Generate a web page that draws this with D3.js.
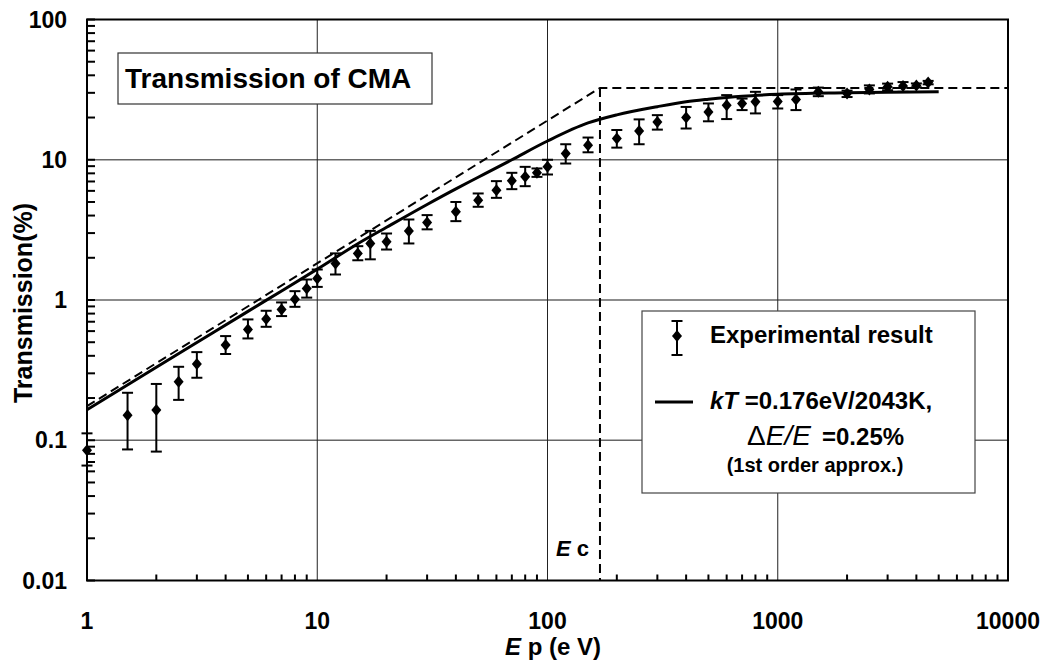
<!DOCTYPE html>
<html>
<head>
<meta charset="utf-8">
<script src="https://d3js.org/d3.v7.min.js"></script>
<style>
  body { margin: 0; background: #fff; }
  text { font-family: Arial, "Liberation Sans", sans-serif; font-weight: bold; fill: #000; }
</style>
</head>
<body>
<div class="chart"></div>
<script>
// Experimental points (Ep in eV, transmission in %) with error bar limits
var energy = [1, 1.5, 2, 2.5, 3, 4, 5, 6, 7, 8, 9, 10, 12, 15, 17, 20, 25, 30, 40, 50, 60, 70, 80, 90, 100,
  120, 150, 200, 250, 300, 400, 500, 600, 700, 800, 1000, 1200, 1500, 2000, 2500, 3000, 3500, 4000, 4500];
var transmission = [0.085, 0.151, 0.164, 0.261, 0.349, 0.477, 0.617, 0.731, 0.857, 1.014, 1.21, 1.425, 1.82, 2.15, 2.53, 2.60, 3.10, 3.57, 4.25, 5.15, 6.07, 7.08, 7.55, 8.07, 8.9,
  11.1, 12.7, 14.2, 16.0, 18.6, 20.0, 21.9, 24.5, 25.2, 25.9, 26.0, 26.9, 30.5, 29.7, 31.7, 33.1, 33.5, 33.9, 35.5];
var errLow = [0.066, 0.086, 0.083, 0.194, 0.279, 0.412, 0.532, 0.644, 0.768, 0.894, 1.04, 1.24, 1.52, 1.92, 1.95, 2.29, 2.53, 3.19, 3.65, 4.62, 5.35, 6.17, 6.48, 7.55, 7.85,
  9.4, 11.3, 12.2, 12.9, 16.4, 16.7, 18.8, 19.5, 22.6, 21.4, 23.2, 22.6, 28.4, 28.0, 29.7, 31.3, 30.5, 32.8, 34.5];
var errHigh = [0.112, 0.218, 0.252, 0.334, 0.425, 0.553, 0.727, 0.838, 0.961, 1.156, 1.40, 1.65, 2.15, 2.42, 3.11, 2.98, 3.75, 4.03, 5.0, 5.75, 7.04, 8.07, 8.9, 8.67, 10.0,
  12.9, 14.4, 16.3, 19.4, 20.8, 23.8, 25.2, 28.9, 27.3, 30.5, 28.9, 31.7, 32.7, 31.1, 33.9, 34.9, 35.8, 35.0, 36.5];

// Calculated curve (kT=0.176eV, dE/E=0.25%)
var modelE = [1, 2, 3, 5, 7, 10, 15, 20, 30, 40, 50, 70, 100, 150, 200, 300, 400, 500, 700, 1000, 2000, 3000, 5000];
var modelT = [0.165, 0.332, 0.498, 0.83, 1.16, 1.66, 2.52, 3.3, 4.8, 6.2, 7.5, 10.0, 13.6, 18.3, 20.9, 23.9, 25.9, 27.0, 28.4, 29.3, 30.0, 30.3, 30.6];

// Ideal (dashed) transmission and cut-off energy Ec
var idealE = [1, 169, 10000];
var idealT = [0.175, 32.5, 32.5];
var cutoffE = 169;

var xTickValues = [1, 10, 100, 1000, 10000];
var yTickValues = [0.01, 0.1, 1, 10, 100];
var xTickLabels = ["1", "10", "100", "1000", "10000"];
var yTickLabels = ["0.01", "0.1", "1", "10", "100"];

var svgWidth = 1047;
var svgHeight = 661;
// plot area edges in pixels
var plotLeft = 87, plotRight = 1008, plotTop = 19.5, plotBottom = 580.5;

var svg = d3.select(".chart")
  .append("svg")
  .attr("width", svgWidth)
  .attr("height", svgHeight);

svg.append("rect")
  .attr("width", svgWidth)
  .attr("height", svgHeight)
  .attr("fill", "#fff");

var x = d3.scaleLog().domain([1, 10000]).range([plotLeft, plotRight]);
var y = d3.scaleLog().domain([0.01, 100]).range([plotBottom, plotTop]);

// grid lines at decades
svg.append("g")
  .selectAll("line")
  .data(yTickValues.slice(1, 4))
  .enter().append("line")
    .attr("x1", plotLeft).attr("x2", plotRight)
    .attr("y1", function(d) { return y(d); })
    .attr("y2", function(d) { return y(d); })
    .attr("stroke", "#666")
    .attr("stroke-width", 1.5);

svg.append("g")
  .selectAll("line")
  .data(xTickValues.slice(1, 4))
  .enter().append("line")
    .attr("y1", plotTop).attr("y2", plotBottom)
    .attr("x1", function(d) { return x(d); })
    .attr("x2", function(d) { return x(d); })
    .attr("stroke", "#222")
    .attr("stroke-width", 1);

// minor ticks (2..9 of every decade), pointing into the plot
var xMinor = [];
var yMinor = [];
[1, 10, 100, 1000].forEach(function(dec) {
  for (var k = 2; k <= 9; k++) xMinor.push(dec * k);
});
[0.01, 0.1, 1, 10].forEach(function(dec) {
  for (var k = 2; k <= 9; k++) yMinor.push(dec * k);
});

svg.append("g")
  .selectAll("line")
  .data(xMinor)
  .enter().append("line")
    .attr("x1", function(d) { return x(d); })
    .attr("x2", function(d) { return x(d); })
    .attr("y1", plotBottom).attr("y2", plotBottom - 6)
    .attr("stroke", "#000")
    .attr("stroke-width", 2);

svg.append("g")
  .selectAll("line")
  .data(yMinor.concat(yTickValues))
  .enter().append("line")
    .attr("y1", function(d) { return y(d); })
    .attr("y2", function(d) { return y(d); })
    .attr("x1", plotLeft).attr("x2", plotLeft + 8)
    .attr("stroke", "#000")
    .attr("stroke-width", 2);

// title box
svg.append("rect")
  .attr("x", 118).attr("y", 53)
  .attr("width", 314).attr("height", 51)
  .attr("fill", "#fff")
  .attr("stroke", "#333")
  .attr("stroke-width", 1.2);

svg.append("text")
  .attr("x", 125).attr("y", 88)
  .style("font-size", "28px")
  .text("Transmission of CMA");

// legend box
svg.append("rect")
  .attr("x", 642).attr("y", 311)
  .attr("width", 333).attr("height", 182)
  .attr("fill", "#fff")
  .attr("stroke", "#444")
  .attr("stroke-width", 1.2);

// ideal transmission (dashed)
var line = d3.line()
  .x(function(d) { return x(d[0]); })
  .y(function(d) { return y(d[1]); });

svg.append("path")
  .attr("d", line(d3.zip(idealE, idealT)))
  .attr("fill", "none")
  .attr("stroke", "#000")
  .attr("stroke-width", 2)
  .attr("stroke-dasharray", "9,5");

svg.append("line")
  .attr("x1", x(cutoffE)).attr("x2", x(cutoffE))
  .attr("y1", y(idealT[1])).attr("y2", plotBottom)
  .attr("stroke", "#000")
  .attr("stroke-width", 2)
  .attr("stroke-dasharray", "9,5");

// calculated curve
var curve = d3.line()
  .x(function(d) { return x(d[0]); })
  .y(function(d) { return y(d[1]); })
  .curve(d3.curveMonotoneX);

svg.append("path")
  .attr("d", curve(d3.zip(modelE, modelT)))
  .attr("fill", "none")
  .attr("stroke", "#000")
  .attr("stroke-width", 3);

// experimental points with error bars
var diamond = "M0,-6L5,0L0,6L-5,0Z";

var points = svg.append("g")
  .selectAll("g")
  .data(energy)
  .enter().append("g")
    .attr("transform", function(d) { return "translate(" + x(d) + ",0)"; });

points.append("line")
  .attr("x1", 0).attr("x2", 0)
  .attr("y1", function(d, i) { return y(errLow[i]); })
  .attr("y2", function(d, i) { return y(errHigh[i]); })
  .attr("stroke", "#000")
  .attr("stroke-width", 2);

points.append("line")
  .attr("x1", -5.5).attr("x2", 5.5)
  .attr("y1", function(d, i) { return y(errLow[i]); })
  .attr("y2", function(d, i) { return y(errLow[i]); })
  .attr("stroke", "#000")
  .attr("stroke-width", 2);

points.append("line")
  .attr("x1", -5.5).attr("x2", 5.5)
  .attr("y1", function(d, i) { return y(errHigh[i]); })
  .attr("y2", function(d, i) { return y(errHigh[i]); })
  .attr("stroke", "#000")
  .attr("stroke-width", 2);

points.append("path")
  .attr("d", diamond)
  .attr("transform", function(d, i) { return "translate(0," + y(transmission[i]) + ")"; })
  .attr("fill", "#000");

// plot frame
svg.append("rect")
  .attr("x", plotLeft).attr("y", plotTop)
  .attr("width", plotRight - plotLeft).attr("height", plotBottom - plotTop)
  .attr("fill", "none")
  .attr("stroke", "#000")
  .attr("stroke-width", 2);

// tick labels
svg.append("g")
  .selectAll("text")
  .data(xTickValues)
  .enter().append("text")
    .attr("x", function(d) { return x(d); })
    .attr("y", 629)
    .attr("text-anchor", "middle")
    .style("font-size", "23px")
    .text(function(d, i) { return xTickLabels[i]; });

svg.append("g")
  .selectAll("text")
  .data(yTickValues)
  .enter().append("text")
    .attr("x", 67)
    .attr("y", function(d) { return y(d) + 8; })
    .attr("text-anchor", "end")
    .style("font-size", "23px")
    .text(function(d, i) { return yTickLabels[i]; });

// axis titles
var xTitle = svg.append("text")
  .attr("x", 553).attr("y", 655)
  .attr("text-anchor", "middle")
  .style("font-size", "24px");
xTitle.append("tspan").style("font-style", "italic").text("E");
xTitle.append("tspan").text(" p (e V)");

svg.append("text")
  .attr("transform", "translate(32,303) rotate(-90)")
  .attr("text-anchor", "middle")
  .style("font-size", "25px")
  .text("Transmission(%)");

// Ec label
var ecLabel = svg.append("text")
  .attr("x", 556).attr("y", 556)
  .style("font-size", "22px");
ecLabel.append("tspan").style("font-style", "italic").text("E");
ecLabel.append("tspan").text(" c");

// legend entries
var lgX = 677, lgY = 336;
svg.append("line")
  .attr("x1", lgX).attr("x2", lgX)
  .attr("y1", lgY - 15).attr("y2", lgY + 19)
  .attr("stroke", "#000").attr("stroke-width", 2);
svg.append("line")
  .attr("x1", lgX - 5.5).attr("x2", lgX + 5.5)
  .attr("y1", lgY - 15).attr("y2", lgY - 15)
  .attr("stroke", "#000").attr("stroke-width", 2);
svg.append("line")
  .attr("x1", lgX - 5.5).attr("x2", lgX + 5.5)
  .attr("y1", lgY + 19).attr("y2", lgY + 19)
  .attr("stroke", "#000").attr("stroke-width", 2);
svg.append("path")
  .attr("d", diamond)
  .attr("transform", "translate(" + lgX + "," + lgY + ")")
  .attr("fill", "#000");

svg.append("text")
  .attr("x", 710).attr("y", 343)
  .style("font-size", "24px")
  .text("Experimental result");

svg.append("line")
  .attr("x1", 655).attr("x2", 693)
  .attr("y1", 402).attr("y2", 402)
  .attr("stroke", "#000").attr("stroke-width", 3);

var kt = svg.append("text")
  .attr("x", 710).attr("y", 409)
  .style("font-size", "24px");
kt.append("tspan").style("font-style", "italic").text("kT");
kt.append("tspan").text(" =0.176eV/2043K,");

var de = svg.append("text")
  .attr("x", 747).attr("y", 445);
de.append("tspan").style("font-size", "28px").style("font-weight", "normal").text("\u0394");
de.append("tspan").style("font-size", "28px").style("font-weight", "normal").style("font-style", "italic").text("E/E");
de.append("tspan").attr("x", 822).style("font-size", "24px").text("=0.25%");

svg.append("text")
  .attr("x", 815).attr("y", 472)
  .attr("text-anchor", "middle")
  .style("font-size", "20px")
  .text("(1st order approx.)");
</script>
</body>
</html>
